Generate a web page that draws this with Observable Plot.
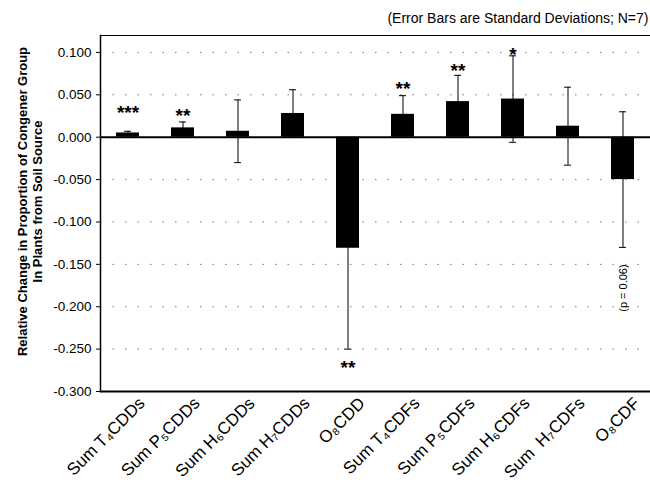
<!DOCTYPE html>
<html>
<head>
<meta charset="utf-8">
<script src="https://cdn.jsdelivr.net/npm/d3@7"></script>
<script src="https://cdn.jsdelivr.net/npm/@observablehq/plot@0.6"></script>
<style>
  html, body { margin: 0; padding: 0; background: #fff; }
  svg { font-family: "Liberation Sans", Arial, sans-serif; }
</style>
</head>
<body>
<div id="chart"></div>
<script>
const categories = ["Sum T₄CDDs", "Sum P₅CDDs", "Sum H₆CDDs", "Sum H₇CDDs", "O₈CDD",
                    "Sum T₄CDFs", "Sum P₅CDFs", "Sum H₆CDFs", "Sum  H₇CDFs", "O₈CDF"];
const values = [0.005, 0.011, 0.007, 0.028, -0.131, 0.027, 0.042, 0.045, 0.013, -0.050];
const stdDevs = [0.002, 0.007, 0.037, 0.028, 0.119, 0.022, 0.031, 0.051, 0.046, 0.080];
const stars = ["***", "**", "", "", "**", "**", "**", "*", "", ""];
const starY = [0.034, 0.031, null, null, -0.266, 0.063, 0.084, 0.103, null, null];
const yTicks = [-0.3, -0.25, -0.2, -0.15, -0.1, -0.05, 0, 0.05, 0.1];
const title = "(Error Bars are Standard Deviations; N=7)";
const yLabel1 = "Relative Change in Proportion of Congener Group";
const yLabel2 = "In Plants from Soil Source";
const pNote = {cat: "O₈CDF", y: -0.178, text: "(p = 0.06)"};

const data = categories.map((c, i) => ({
  cat: c, v: values[i], lo: values[i] - stdDevs[i], hi: values[i] + stdDevs[i],
  star: stars[i], sy: starY[i]
}));

const chart = Plot.plot({
  width: 650,
  height: 497,
  marginLeft: 100,
  marginRight: 0,
  marginTop: 35,
  marginBottom: 106,
  style: {background: "#fff", color: "#000"},
  x: {domain: categories, padding: 0, label: null},
  y: {domain: [-0.3, 0.12], label: null},
  marks: [
    Plot.gridY(yTicks.filter(d => d !== 0 && d !== -0.3), {stroke: "#000", strokeOpacity: 0.55, strokeDasharray: "1.5,11"}),
    Plot.barY(data, {x: "cat", y: "v", fill: "#000", insetLeft: 16, insetRight: 16}),
    Plot.ruleX(data, {x: "cat", y1: "lo", y2: "hi", stroke: "#000", strokeWidth: 1}),
    Plot.tickY(data, {x: "cat", y: "lo", stroke: "#000", insetLeft: 24, insetRight: 24}),
    Plot.tickY(data, {x: "cat", y: "hi", stroke: "#000", insetLeft: 24, insetRight: 24}),
    Plot.ruleY([0], {stroke: "#000", strokeWidth: 2}),
    Plot.ruleY([-0.3], {stroke: "#000", strokeWidth: 2}),
    Plot.ruleY([0.12], {stroke: "#000", strokeWidth: 1.2}),
    Plot.frame({anchor: "left", stroke: "#000", strokeWidth: 1.5}),
    Plot.text(data.filter(d => d.star), {x: "cat", y: "sy", text: "star", fontSize: 19, fontWeight: "bold", dy: 5}),
    Plot.text([pNote], {x: "cat", y: "y", text: "text", rotate: -90, fontSize: 11}),
    Plot.axisY({ticks: yTicks, tickFormat: d => d.toFixed(3), tickSize: 4, tickPadding: 5, fontSize: 13.5}),
    Plot.axisX({tickSize: 0, tickRotate: -45, tickPadding: 9, dx: 14, fontSize: 17}),
    Plot.text([title], {frameAnchor: "top-right", dx: -2, dy: -22, textAnchor: "end", fontSize: 14}),
    Plot.text([yLabel1], {frameAnchor: "left", rotate: -90, textAnchor: "middle", dx: -78, dy: -12, fontWeight: "bold", fontSize: 13}),
    Plot.text([yLabel2], {frameAnchor: "left", rotate: -90, textAnchor: "middle", dx: -63, dy: -12, fontWeight: "bold", fontSize: 13})
  ]
});
document.getElementById("chart").appendChild(chart);
</script>
</body>
</html>
